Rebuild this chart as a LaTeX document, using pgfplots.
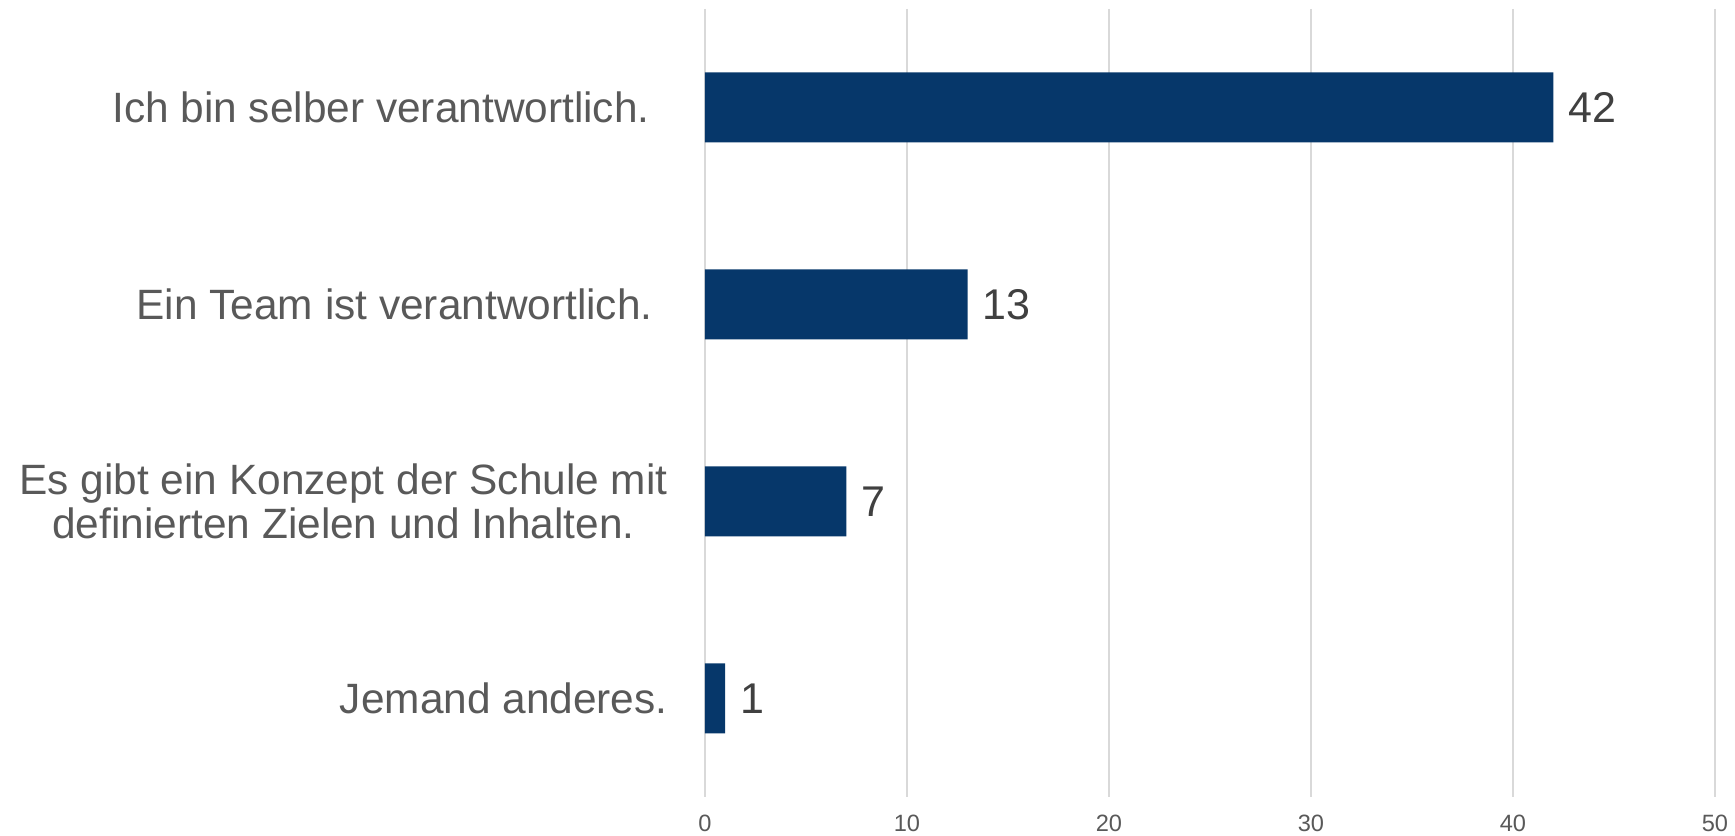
\documentclass[border=0pt]{standalone}
\usepackage{pgfplots}
\pgfplotsset{compat=1.18}
\usepackage{fontspec}
\setmainfont{Liberation Sans}
\definecolor{barblue}{HTML}{06376A}
\definecolor{txtgray}{HTML}{595959}
\definecolor{valgray}{HTML}{404040}
\definecolor{gridgray}{HTML}{D9D9D9}
\begin{document}
\begin{tikzpicture}
\begin{axis}[
  name=ax,
  scale only axis, width=505pt, height=394pt,
  xbar, bar width=35pt,
  xmin=0, xmax=50, ymin=-0.5, ymax=3.5, y dir=reverse,
  xtick={0,10,...,50},
  ytick={0,1,2,3},
  yticklabels={{Ich bin selber verantwortlich.\hspace*{9pt}},{Ein Team ist verantwortlich.\hspace*{7.5pt}},{Es gibt ein Konzept der Schule mit\\definierten Zielen und Inhalten.},{Jemand anderes.}},
  axis line style={draw=none},
  major tick length=0pt,
  xmajorgrids, ymajorgrids=false,
  grid style={gridgray, line width=0.9pt},
  /pgf/number format/assume math mode=true,
  xticklabel style={font=\fontsize{11.8}{14}\selectfont, text=txtgray, inner sep=0pt, yshift=-8.8pt},
  yticklabel style={font=\fontsize{21.2}{21.8}\selectfont, text=txtgray, align=center, inner sep=0pt, xshift=-18.5pt},
  nodes near coords,
  nodes near coords style={font=\fontsize{21.5}{21.5}\selectfont, text=valgray, anchor=west, inner sep=0pt, xshift=7.5pt},
]
\addplot[fill=barblue, draw=none] coordinates {(42,0) (13,1) (7,2) (1,3)};
\end{axis}
\pgfresetboundingbox
\path[use as bounding box] ([xshift=-352.5pt,yshift=-19.5pt]ax.south west) rectangle ([xshift=10pt,yshift=4.5pt]ax.north east);
\end{tikzpicture}
\end{document}
